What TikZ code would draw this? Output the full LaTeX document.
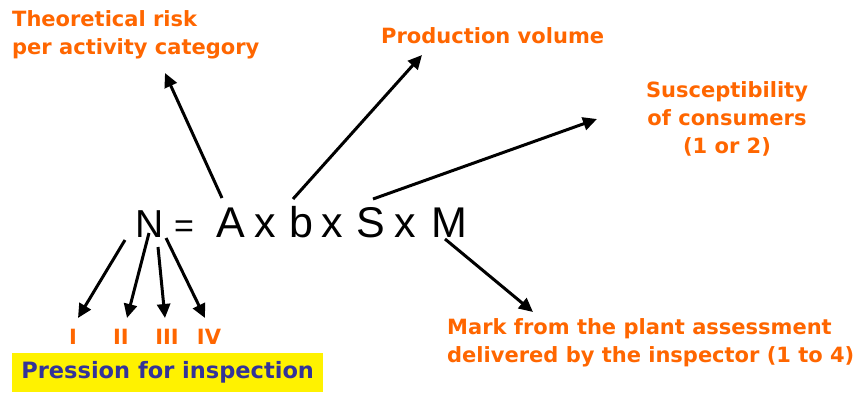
\documentclass[tikz,border=0pt]{standalone}
\usepackage{fontspec}
\usepackage{xcolor}
\newfontfamily\labelfont{DejaVu Sans}
\newfontfamily\formulafont{Liberation Sans}
\usetikzlibrary{arrows.meta, calc}
\definecolor{labelorange}{RGB}{255,102,0}
\definecolor{pressionblue}{RGB}{51,51,153}

\begin{document}
\begin{tikzpicture}[x=1pt, y=-1pt,
    lbl/.style={text=labelorange, inner sep=0pt, font=\labelfont\bfseries\fontsize{21}{28}\selectfont},
    num/.style={text=labelorange, inner sep=0pt, anchor=base, font=\labelfont\bfseries\fontsize{21}{21}\selectfont},
    frm/.style={inner sep=0pt, anchor=base, font=\formulafont\fontsize{43}{43}\selectfont},
    arr/.style={line width=3pt, -{Triangle[length=14pt,width=13pt]}}]
  \useasboundingbox (0,0) rectangle (859,392);

  % formula
  \node[frm, font=\formulafont\fontsize{39}{39}\selectfont] (N) at (150,237) {N};
  \node[frm, font=\formulafont\fontsize{34}{34}\selectfont] (eq) at (184,237) {=};
  \node[frm] (A) at (231,237) {A};
  \node[frm] (x1) at (265,237) {x};
  \node[frm] (b) at (301,237) {b};
  \node[frm] (x2) at (332,237) {x};
  \node[frm] (S) at (371,237) {S};
  \node[frm] (x3) at (405,237) {x};
  \node[frm] (M) at (449,237) {M};

  % labels
  \node[lbl, anchor=north west, align=left] (risk) at (12,10) {Theoretical risk\\per activity category};
  \node[lbl, anchor=base west] (volume) at (381,43) {Production volume};
  \node[lbl, anchor=north, align=center] (suscept) at (727,81) {Susceptibility\\of consumers\\(1 or 2)};
  \node[lbl, anchor=north west, align=left] (mark) at (447,318) {Mark from the plant assessment\\delivered by the inspector (1 to 4)};

  % categories
  \node[num] (rI) at (73,344) {I};
  \node[num] (rII) at (121,344) {II};
  \node[num] (rIII) at (167,344) {III};
  \node[num] (rIV) at (209,344) {IV};
  \node[fill=yellow, text=pressionblue, anchor=south west, minimum width=311pt, minimum height=39pt,
        inner sep=0pt, font=\labelfont\bfseries\fontsize{22.5}{22.5}\selectfont] (pression) at (12,392) {Pression for inspection};

  % arrows
  \draw[arr] ($(A.base)+(-9,-39)$) -- ($(risk.north west)+(153,63)$);
  \draw[arr] ($(b.base)+(-8,-38)$) -- ($(volume.base west)+(41,12)$);
  \draw[arr] ($(S.base)+(2,-38)$) -- ($(suscept.north)+(-130,38)$);
  \draw[arr] ($(M.base)+(-4,2)$) -- ($(mark.north west)+(86,-6)$);
  \draw[arr] ($(N.base)+(-25,3)$) -- ($(rI.base)+(5,-26)$);
  \draw[arr] ($(N.base)+(-1,-4)$) -- ($(rII.base)+(6,-26)$);
  \draw[arr] ($(N.base)+(8,10)$) -- ($(rIII.base)+(-2,-26)$);
  \draw[arr] ($(N.base)+(16,1)$) -- ($(rIV.base)+(-4,-26)$);
\end{tikzpicture}
\end{document}
